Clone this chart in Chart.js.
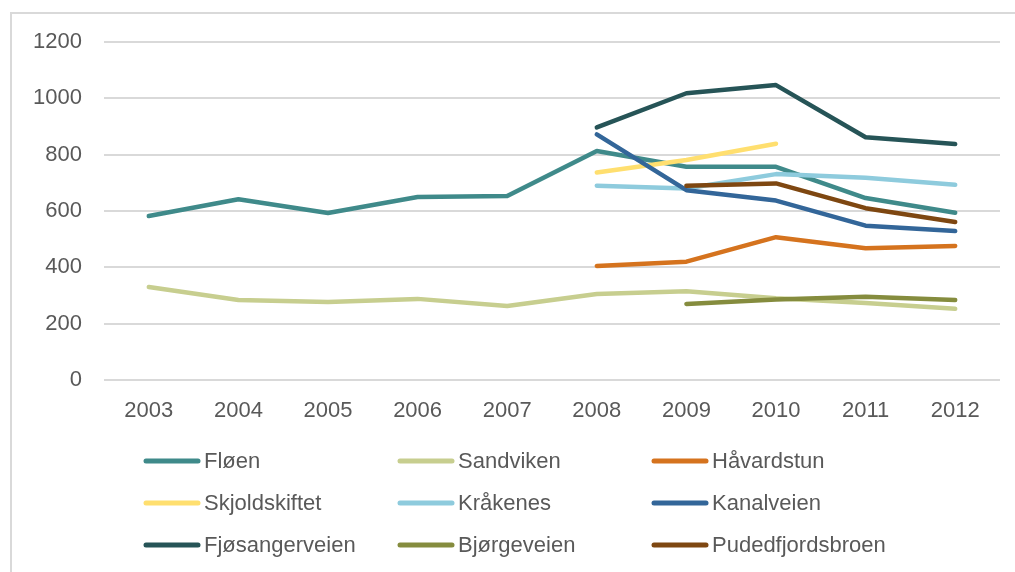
<!DOCTYPE html>
<html lang="no">
<head>
  <meta charset="UTF-8">
  <title>Fløen og andre</title>
  <script src="https://cdn.jsdelivr.net/npm/chart.js"></script>
  <style>
    body {
      margin: 0;
      background: #fff;
      font-family: 'Liberation Sans', Arial, sans-serif;
      overflow: hidden;
    }
    .frame {
      position: absolute;
      left: 10px;
      top: 12px;
      width: 1100px;
      height: 700px;
      border-left: 2px solid #d9d9d9;
      border-top: 2px solid #d9d9d9;
    }
    .wrap {
      position: absolute;
      left: 0;
      top: 0;
      width: 1015px;
      height: 572px;
    }
  </style>
</head>
<body>
  <div class="frame"></div>
  <div class="wrap"><canvas id="chart" width="1015" height="572"></canvas></div>

  <script>
    // data
    const years = ['2003', '2004', '2005', '2006', '2007', '2008', '2009', '2010', '2011', '2012'];
    const seriesNames = ['Fløen', 'Sandviken', 'Håvardstun', 'Skjoldskiftet', 'Kråkenes', 'Kanalveien', 'Fjøsangerveien', 'Bjørgeveien', 'Pudedfjordsbroen'];
    const floen = [582, 642, 593, 650, 653, 813, 757, 757, 646, 594];
    const sandviken = [330, 284, 277, 288, 263, 305, 315, 290, 273, 253];
    const havardstun = [null, null, null, null, null, 405, 420, 507, 468, 476];
    const skjoldskiftet = [null, null, null, null, null, 737, 781, 839, null, null];
    const krakenes = [null, null, null, null, null, 690, 680, 731, 718, 693];
    const kanalveien = [null, null, null, null, null, 872, 674, 637, 548, 529];
    const fjosangerveien = [null, null, null, null, null, 897, 1018, 1047, 862, 838];
    const bjorgeveien = [null, null, null, null, null, null, 270, 286, 296, 284];
    const pudedfjordsbroen = [null, null, null, null, null, null, 690, 698, 610, 561];
    const yTicks = [0, 200, 400, 600, 800, 1000, 1200];
    const colors = ['#3f8a8a', '#c7ce8f', '#d5731e', '#ffdf6f', '#8ecbdd', '#336699', '#265457', '#858c3e', '#7e4711'];

    const allValues = [floen, sandviken, havardstun, skjoldskiftet, krakenes, kanalveien, fjosangerveien, bjorgeveien, pudedfjordsbroen];
    const textColor = '#595959';
    const fontFamily = "'Liberation Sans', Arial, sans-serif";

    // legend in 3 fixed columns, drawn under the chart
    const gridLegend = {
      id: 'gridLegend',
      afterDraw(chart) {
        const ctx = chart.ctx;
        const colX = [144, 398, 652];
        const rowY = [461, 503, 545];
        ctx.save();
        ctx.font = '22px ' + fontFamily;
        ctx.textBaseline = 'middle';
        ctx.textAlign = 'left';
        chart.data.datasets.forEach((ds, i) => {
          const x = colX[i % 3];
          const y = rowY[Math.floor(i / 3)];
          ctx.strokeStyle = ds.borderColor;
          ctx.lineWidth = 5;
          ctx.lineCap = 'round';
          ctx.beginPath();
          ctx.moveTo(x + 2, y);
          ctx.lineTo(x + 54, y);
          ctx.stroke();
          ctx.fillStyle = textColor;
          ctx.fillText(ds.label, x + 60, y + 1);
        });
        ctx.restore();
      }
    };

    new Chart(document.getElementById('chart'), {
      type: 'line',
      data: {
        labels: years,
        datasets: seriesNames.map((name, i) => ({
          label: name,
          data: allValues[i],
          borderColor: colors[i],
          backgroundColor: colors[i],
          borderWidth: 4.5,
          borderCapStyle: 'round',
          borderJoinStyle: 'round',
          pointRadius: 0,
          tension: 0,
          spanGaps: false,
          order: seriesNames.length - i
        }))
      },
      options: {
        responsive: false,
        animation: false,
        layout: { padding: { left: 10, top: 42, right: 15, bottom: 132 } },
        plugins: {
          legend: { display: false },
          tooltip: { enabled: false }
        },
        scales: {
          x: {
            offset: true,
            grid: { display: false, drawTicks: false },
            border: { display: false },
            ticks: { color: textColor, font: { size: 22, family: fontFamily }, padding: 18 },
            afterFit(scale) { scale.height = 60; }
          },
          y: {
            min: 0,
            max: 1200,
            afterBuildTicks(scale) { scale.ticks = yTicks.map(v => ({ value: v })); },
            grid: { color: '#d9d9d9', lineWidth: 2, drawTicks: false },
            border: { display: false },
            ticks: {
              color: textColor,
              font: { size: 22, family: fontFamily },
              padding: 22,
              callback: v => String(v)
            },
            afterFit(scale) { scale.width = 94; }
          }
        }
      },
      plugins: [gridLegend]
    });
  </script>
</body>
</html>
